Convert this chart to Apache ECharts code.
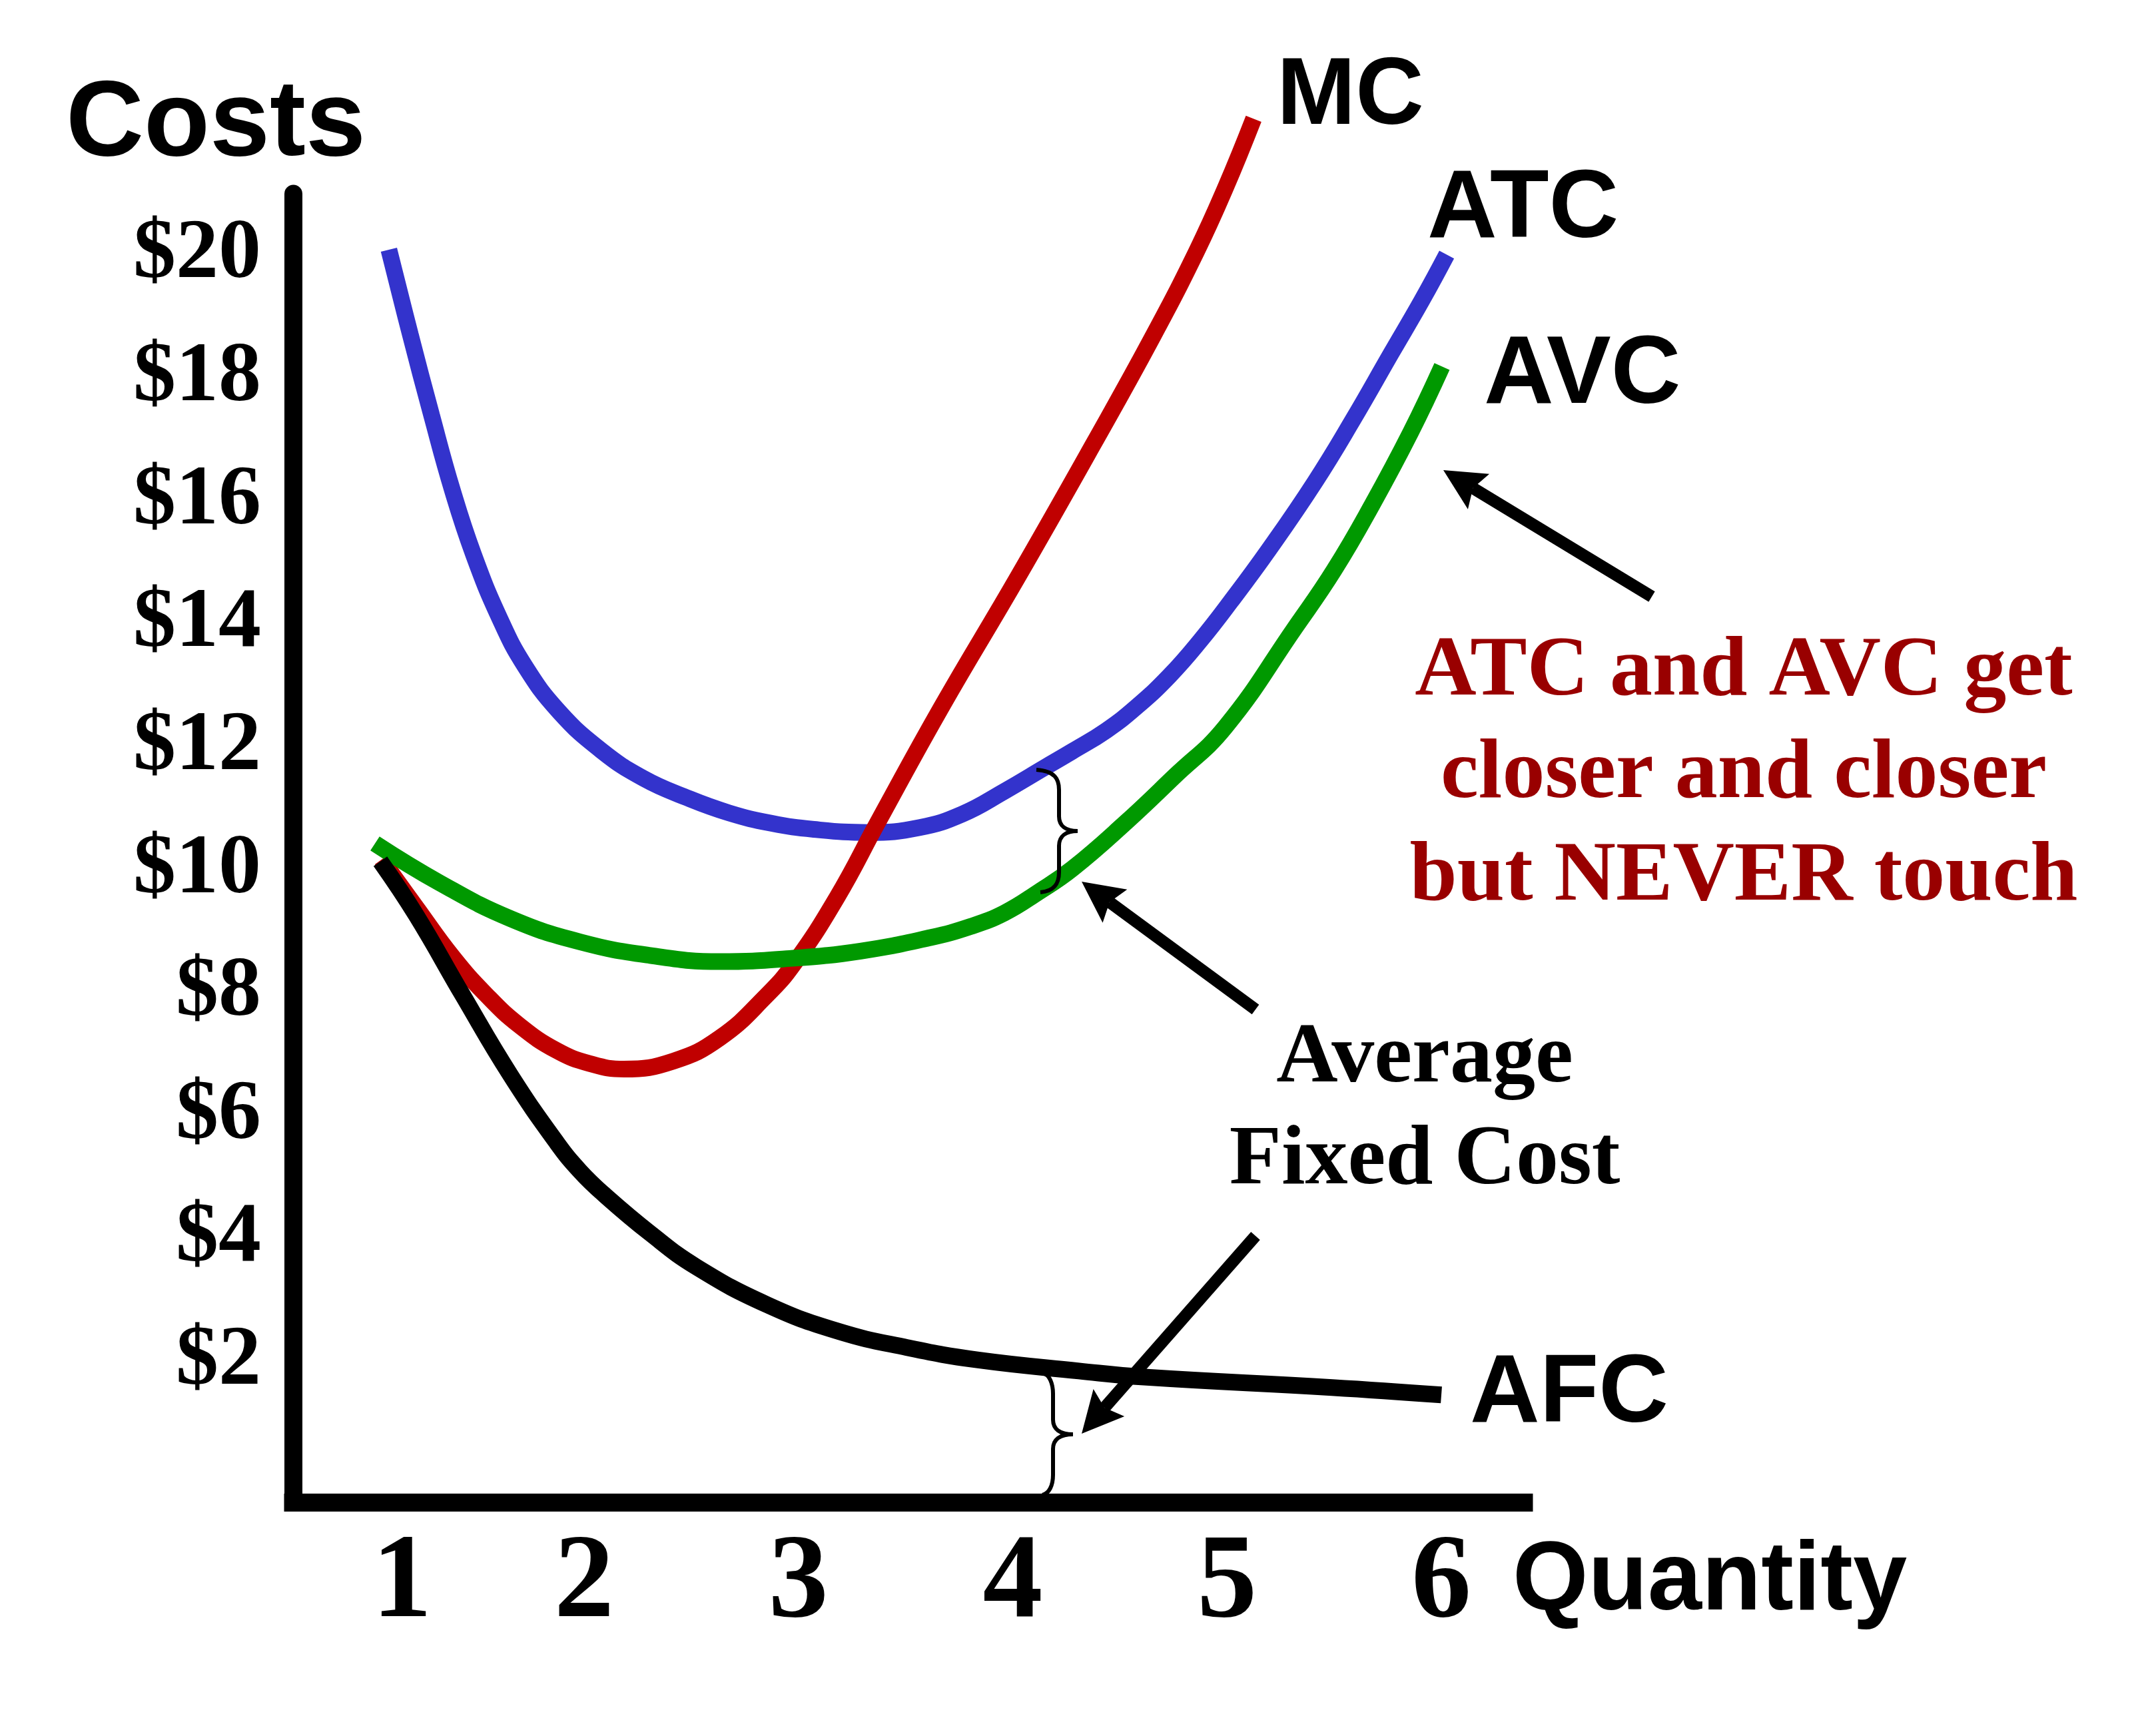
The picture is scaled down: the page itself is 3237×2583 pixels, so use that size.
<!DOCTYPE html>
<html><head><meta charset="utf-8">
<script src="https://cdn.jsdelivr.net/npm/echarts@6/dist/echarts.min.js"></script>
<style>html,body{margin:0;padding:0;background:#fff}#chart{width:3237px;height:2583px}</style>
</head><body><div id="chart"></div>
<script>
// ---------- data ----------
const yTickValues = [2, 4, 6, 8, 10, 12, 14, 16, 18, 20];
const xTickValues = [1.15, 2, 3, 4, 5, 6];
const xTickLabels = ['1', '2', '3', '4', '5', '6'];

const atcQ = [1.089,1.189,1.288,1.385,1.484,1.605,1.723,1.882,2.081,2.277,2.476,2.674,2.873,3.072,3.327,3.566,3.765,3.961,4.151,4.278,4.437,4.580,4.732,4.875,5.018,5.195,5.410,5.587,5.767,5.910,6.025];
const atcCost = [20.09,18.71,17.40,16.18,15.13,14.10,13.32,12.58,11.94,11.49,11.18,10.93,10.76,10.66,10.61,10.69,10.91,11.28,11.67,11.93,12.27,12.66,13.16,13.73,14.37,15.21,16.31,17.32,18.41,19.27,20.01];

const mcQ = [1.055,1.217,1.388,1.543,1.698,1.873,2.026,2.186,2.416,2.634,2.852,2.982,3.181,3.368,3.666,4.023,4.375,4.651,4.856,4.993,5.124];
const mcCost = [10.17,9.39,8.58,7.97,7.47,7.06,6.85,6.76,6.89,7.27,7.96,8.49,9.56,10.76,12.64,14.76,16.92,18.66,20.05,21.10,22.22];

const avcQ = [1.024,1.326,1.655,1.981,2.308,2.634,2.960,3.290,3.616,3.803,3.961,4.120,4.278,4.517,4.754,4.993,5.319,5.500,5.677,5.857,6.003];
const avcCost = [10.43,9.79,9.21,8.83,8.61,8.51,8.56,8.68,8.90,9.08,9.30,9.64,10.02,10.74,11.52,12.33,13.95,14.88,15.94,17.12,18.19];

const afcQ = [1.049,1.217,1.434,1.655,1.873,1.981,2.090,2.308,2.525,2.852,3.181,3.507,3.834,4.309,4.614,5.490,6.000];
const afcCost = [10.14,9.26,7.96,6.67,5.56,5.10,4.73,4.09,3.54,2.93,2.50,2.23,2.03,1.85,1.75,1.58,1.46];

const curveNames = ['ATC', 'MC', 'AVC', 'AFC'];
const noteRed = 'ATC and AVC get\ncloser and closer\nbut NEVER touch';
const noteBlack = 'Average\nFixed Cost';

// ---------- build ----------
const pairs = (xs, ys) => xs.map((x, i) => [x, ys[i]]);
const SANS = 'Liberation Sans, Arial, sans-serif';
const SERIF = 'Liberation Serif, Times New Roman, serif';

function lineSeries(name, xs, ys, color) {
  return {
    name, type: 'line', data: pairs(xs, ys), showSymbol: false, smooth: 0.45,
    clip: false, silent: true,
    lineStyle: { color, width: 25, cap: 'butt' }
  };
}

function arrow(tail, tip) {
  const dx = tip[0] - tail[0], dy = tip[1] - tail[1];
  const len = Math.hypot(dx, dy), ux = dx / len, uy = dy / len, px = -uy, py = ux;
  const L = 62, W = 31, N = 10;
  const base = [tip[0] - ux * L, tip[1] - uy * L];
  const notch = [tip[0] - ux * (L - N), tip[1] - uy * (L - N)];
  return [
    { type: 'line', z: 100, shape: { x1: tail[0], y1: tail[1], x2: notch[0], y2: notch[1] }, style: { stroke: '#000', lineWidth: 18 } },
    { type: 'polygon', z: 100, shape: { points: [tip, [base[0] + px * W, base[1] + py * W], notch, [base[0] - px * W, base[1] - py * W]] }, style: { fill: '#000' } }
  ];
}

// curly brace "}" from (xTop, top) to (xBot, bottom) with stem at sx and tip at tx
function brace(xTop, top, xBot, bottom, sx, tx) {
  const mid = (top + bottom) / 2;
  const st = { stroke: '#000', lineWidth: 6, fill: null };
  const r = 30;
  return [
    { type: 'bezierCurve', z: 100, shape: { x1: xTop, y1: top, cpx1: sx - 6, cpy1: top + 2, cpx2: sx, cpy2: top + 14, x2: sx, y2: top + r }, style: st },
    { type: 'line', z: 100, shape: { x1: sx, y1: top + r, x2: sx, y2: mid - 22 }, style: st },
    { type: 'bezierCurve', z: 100, shape: { x1: sx, y1: mid - 22, cpx1: sx, cpy1: mid - 8, cpx2: sx + 10, cpy2: mid, x2: tx, y2: mid }, style: st },
    { type: 'bezierCurve', z: 100, shape: { x1: tx, y1: mid, cpx1: sx + 10, cpy1: mid, cpx2: sx, cpy2: mid + 8, x2: sx, y2: mid + 22 }, style: st },
    { type: 'line', z: 100, shape: { x1: sx, y1: mid + 22, x2: sx, y2: bottom - r }, style: st },
    { type: 'bezierCurve', z: 100, shape: { x1: sx, y1: bottom - r, cpx1: sx, cpy1: bottom - 14, cpx2: sx - 6, cpy2: bottom - 2, x2: xBot, y2: bottom }, style: st }
  ];
}

function label(text, x, baseline, fs) {
  return { type: 'text', z: 100, x, y: baseline - 0.285 * fs,
    style: { text, fontSize: fs, fontFamily: SANS, fontWeight: 'bold', fill: '#000', align: 'left', verticalAlign: 'middle' } };
}

const graphics = [
  label('Costs', 99, 234, 162),
  label('Quantity', 2271, 2418, 146),
  label(curveNames[1], 1917, 187, 142),
  label(curveNames[0], 2143, 357, 145),
  label(curveNames[2], 2228, 606, 145),
  label(curveNames[3], 2207, 2136, 145),
  { type: 'text', z: 100, x: 2618, y: 933,
    style: { text: noteRed, fontSize: 128, lineHeight: 154, fontFamily: SERIF, fontWeight: 'bold', fill: '#990000', align: 'center', verticalAlign: 'top' } },
  { type: 'text', z: 100, x: 2139, y: 1514,
    style: { text: noteBlack, fontSize: 128, lineHeight: 153, fontFamily: SERIF, fontWeight: 'bold', fill: '#000', align: 'center', verticalAlign: 'top' } },
  ...brace(1556, 1156, 1562, 1340, 1590, 1618),
  ...brace(1568, 2063, 1565, 2245, 1581, 1611),
  ...arrow([2480, 896], [2167, 706]),
  ...arrow([1885, 1516], [1624, 1324]),
  ...arrow([1885, 1856], [1624, 2153])
];

const chart = echarts.init(document.getElementById('chart'), null, { renderer: 'canvas' });
chart.setOption({
  animation: false,
  backgroundColor: '#fff',
  grid: { left: 440, right: 949, top: 291, bottom: 327, containLabel: false, outerBoundsMode: 'none' },
  xAxis: {
    type: 'value', min: 0.6418, max: 6.3853,
    axisLine: { show: true, onZero: false, lineStyle: { color: '#000', width: 27, cap: 'square' } },
    axisTick: { show: false }, splitLine: { show: false },
    axisLabel: {
      customValues: xTickValues,
      formatter: (v) => xTickLabels[xTickValues.indexOf(v)] ?? String(Math.round(v)),
      fontFamily: SERIF, fontWeight: 'bold', fontSize: 180, lineHeight: 180, color: '#000', margin: 34
    }
  },
  yAxis: {
    type: 'value', min: -0.286, max: 21,
    axisLine: { show: true, onZero: false, lineStyle: { color: '#000', width: 27 } },
    axisTick: { show: false }, splitLine: { show: false },
    axisLabel: {
      customValues: yTickValues,
      formatter: (v) => '$' + v,
      padding: [34, 0, 0, 0],
      fontFamily: SERIF, fontWeight: 'bold', fontSize: 128, color: '#000', margin: 48
    }
  },
  series: [
    lineSeries(curveNames[0], atcQ, atcCost, '#3333CC'),
    lineSeries(curveNames[1], mcQ, mcCost, '#C00000'),
    lineSeries(curveNames[2], avcQ, avcCost, '#009900'),
    lineSeries(curveNames[3], afcQ, afcCost, '#000000')
  ],
  graphic: graphics
});
</script>
</body></html>
